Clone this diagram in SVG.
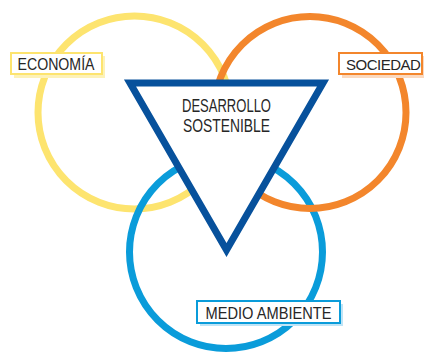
<svg xmlns="http://www.w3.org/2000/svg" width="424" height="354" viewBox="0 0 424 354">
  <style>
    .ring { fill: none; stroke-width: 7; }
    .lbl { font-family: "Liberation Sans", Arial, sans-serif; font-size: 16px; fill: #262626; }
    .title { font-family: "Liberation Sans", Arial, sans-serif; font-size: 17.5px; fill: #262626; }
    .box { fill: #ffffff; stroke-width: 2; }
  </style>
  <rect width="424" height="354" fill="#ffffff"/>
  <g id="circles">
    <circle id="economia-circle" class="ring" cx="134.5" cy="112.5" r="96.5" stroke="#fde46f"/>
    <circle id="medio-circle" class="ring" cx="226" cy="252" r="96.5" stroke="#0a9cda"/>
    <circle id="sociedad-circle" class="ring" cx="310" cy="112.5" r="96" stroke="#f3862c"/>
  </g>
  <g id="desarrollo">
    <polygon points="130,83 323,83 226.5,250" fill="#ffffff" stroke="#07519c" stroke-width="7" stroke-linejoin="miter"/>
    <text class="title" x="226.5" y="111.5" text-anchor="middle" textLength="89" lengthAdjust="spacingAndGlyphs">DESARROLLO</text>
    <text class="title" x="226.5" y="131.5" text-anchor="middle" textLength="87" lengthAdjust="spacingAndGlyphs">SOSTENIBLE</text>
  </g>
  <g id="economia">
    <rect x="14" y="56" width="91" height="22" fill="#fdf2b8"/>
    <rect class="box" x="11" y="53" width="91" height="21" stroke="#fde46f"/>
    <text class="lbl" x="56" y="69.5" text-anchor="middle" textLength="77" lengthAdjust="spacingAndGlyphs">ECONOMÍA</text>
  </g>
  <g id="sociedad">
    <rect x="342" y="56" width="82" height="22" fill="#fbd9bf"/>
    <rect class="box" x="339" y="53" width="83" height="21" stroke="#f3862c"/>
    <text class="lbl" x="346" y="69.5" style="font-size:15px" letter-spacing="-0.5">SOCIEDAD</text>
  </g>
  <g id="medio-ambiente">
    <rect x="200" y="304" width="143" height="22" fill="#bfe4f6"/>
    <rect class="box" x="197" y="301" width="143" height="22" stroke="#0a9cda"/>
    <text class="lbl" x="268.5" y="319" text-anchor="middle" textLength="126" lengthAdjust="spacingAndGlyphs">MEDIO AMBIENTE</text>
  </g>
</svg>
